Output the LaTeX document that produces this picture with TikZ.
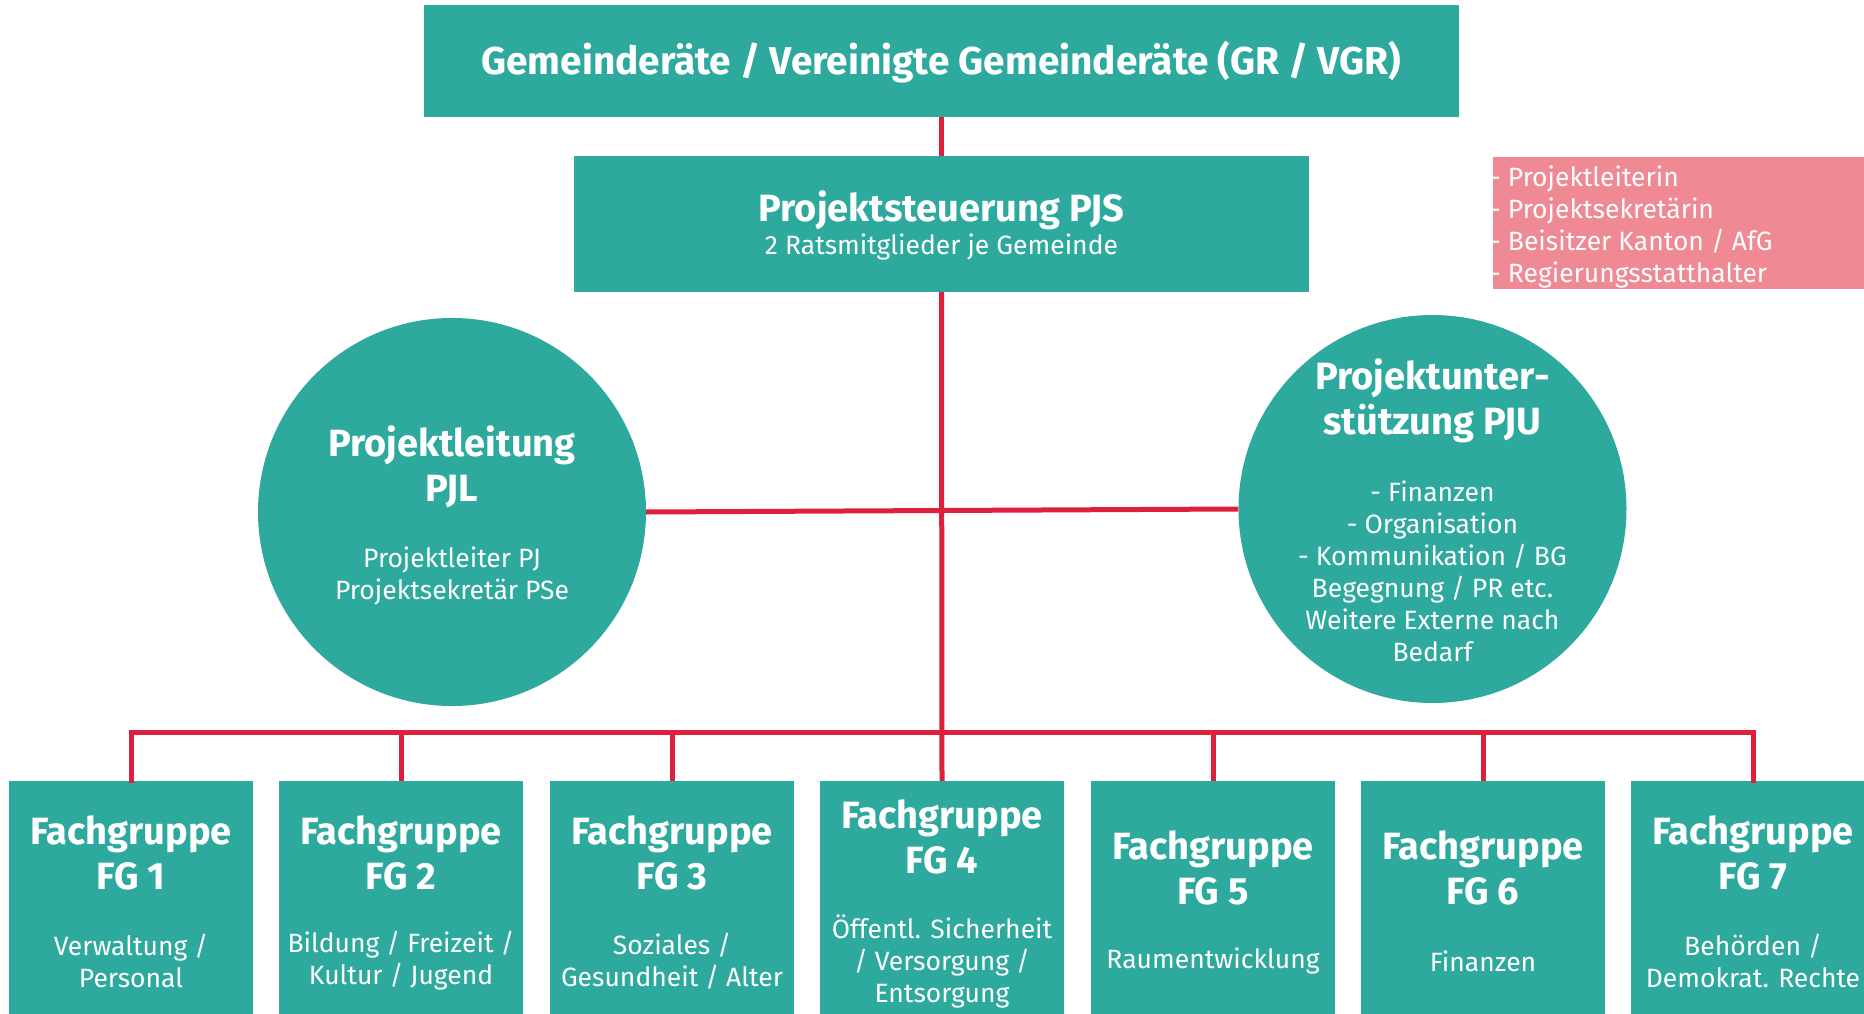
\documentclass[tikz,border=0pt]{standalone}
\usepackage{fontspec}
\setmainfont{Fira Sans}
\definecolor{teal}{RGB}{46,169,157}
\definecolor{redline}{RGB}{222,32,60}
\definecolor{pinkbox}{RGB}{239,137,148}
\tikzset{
  boxstyle/.style={fill=teal, draw=none, inner sep=0pt, rectangle},
  circstyle/.style={fill=teal, draw=none, inner sep=0pt, circle, minimum size=388pt},
  titletext/.style={text=white, align=center, inner sep=0pt, font=\fontsize{38}{45}\selectfont\bfseries},
  subtext/.style={text=white, align=center, inner sep=0pt, font=\fontsize{26.5}{32}\selectfont},
  conn/.style={draw=redline, line width=5pt},
}
\begin{document}
\begin{tikzpicture}[x=1pt,y=-1pt]
\useasboundingbox (0,0) rectangle (1864,1014);
\clip (0,0) rectangle (1864,1014);
% top
\node[boxstyle, minimum width=1035pt, minimum height=112pt] (gr) at (941.5,61) {};
\node[titletext, font=\fontsize{38.8}{45}\selectfont\bfseries] (grt) at (941.5,62) {Gemeinderäte / Vereinigte Gemeinderäte (GR / VGR)};
% PJS
\node[boxstyle, minimum width=735pt, minimum height=136pt] (pjs) at (941.5,224) {};
\node[titletext] (pjst) at (941.5,210) {Projektsteuerung PJS};
\node[subtext] (pjss) at (941.5,247) {2 Ratsmitglieder je Gemeinde};
% pink
\node[boxstyle, fill=pinkbox, minimum width=397pt, minimum height=132pt] (pink) at (1691.5,223) {};
\node[subtext, align=left, anchor=west] (pinkt) at (1490,226.5) {- Projektleiterin\\- Projektsekretärin\\- Beisitzer Kanton / AfG\\- Regierungsstatthalter};
% circles
\node[circstyle] (pjl) at (452,512) {};
\node[titletext] (pjlt) at (452,467) {Projektleitung\\PJL};
\node[subtext] (pjls) at (452,576) {Projektleiter PJ\\Projektsekretär PSe};
\node[circstyle] (pju) at (1432.5,509) {};
\node[titletext] (pjut) at (1432.5,401) {Projektunter-\\stützung PJU};
\node[subtext] (pjus) at (1432.5,571) {- Finanzen\\- Organisation\\- Kommunikation / BG\\Begegnung / PR etc.\\Weitere Externe nach\\Bedarf};
% FG boxes
\foreach \i/\x in {1/131,2/401,3/672,4/942,5/1213,6/1483,7/1753}{
  \node[boxstyle, minimum width=244pt, minimum height=259pt] (fg\i) at (\x,910.5) {};
}
\node[titletext] (fg1t) at (131,852.5) {Fachgruppe\\FG 1};
\node[subtext] (fg1s) at (131,961) {Verwaltung /\\Personal};
\node[titletext] (fg2t) at (401,852.5) {Fachgruppe\\FG 2};
\node[subtext] (fg2s) at (401,961) {Bildung / Freizeit /\\Kultur / Jugend};
\node[titletext] (fg3t) at (672,852.5) {Fachgruppe\\FG 3};
\node[subtext] (fg3s) at (672,961) {Soziales /\\Gesundheit / Alter};
\node[titletext] (fg4t) at (942,836.5) {Fachgruppe\\FG 4};
\node[subtext] (fg4s) at (942,961) {Öffentl. Sicherheit\\/ Versorgung /\\Entsorgung};
\node[titletext] (fg5t) at (1213,868) {Fachgruppe\\FG 5};
\node[subtext] (fg5s) at (1213,961) {Raumentwicklung};
\node[titletext] (fg6t) at (1483,868) {Fachgruppe\\FG 6};
\node[subtext] (fg6s) at (1483,961) {Finanzen};
\node[titletext] (fg7t) at (1753,852.5) {Fachgruppe\\FG 7};
\node[subtext] (fg7s) at (1753,961) {Behörden /\\Demokrat. Rechte};
% connectors
\coordinate (bus) at (941.5,732);
\draw[conn] (gr.south) -- (pjs.north);
\draw[conn] (pjs.south) -- (fg4.north);
\draw[conn] (pjl.east) -- (pju.west);
\draw[conn, line cap=rect] (fg1.north) |- (bus) -| (fg7.north);
\foreach \i in {2,3,5,6}{
  \draw[conn] (fg\i.north) -- (fg\i.north |- bus);
}
\end{tikzpicture}
\end{document}
